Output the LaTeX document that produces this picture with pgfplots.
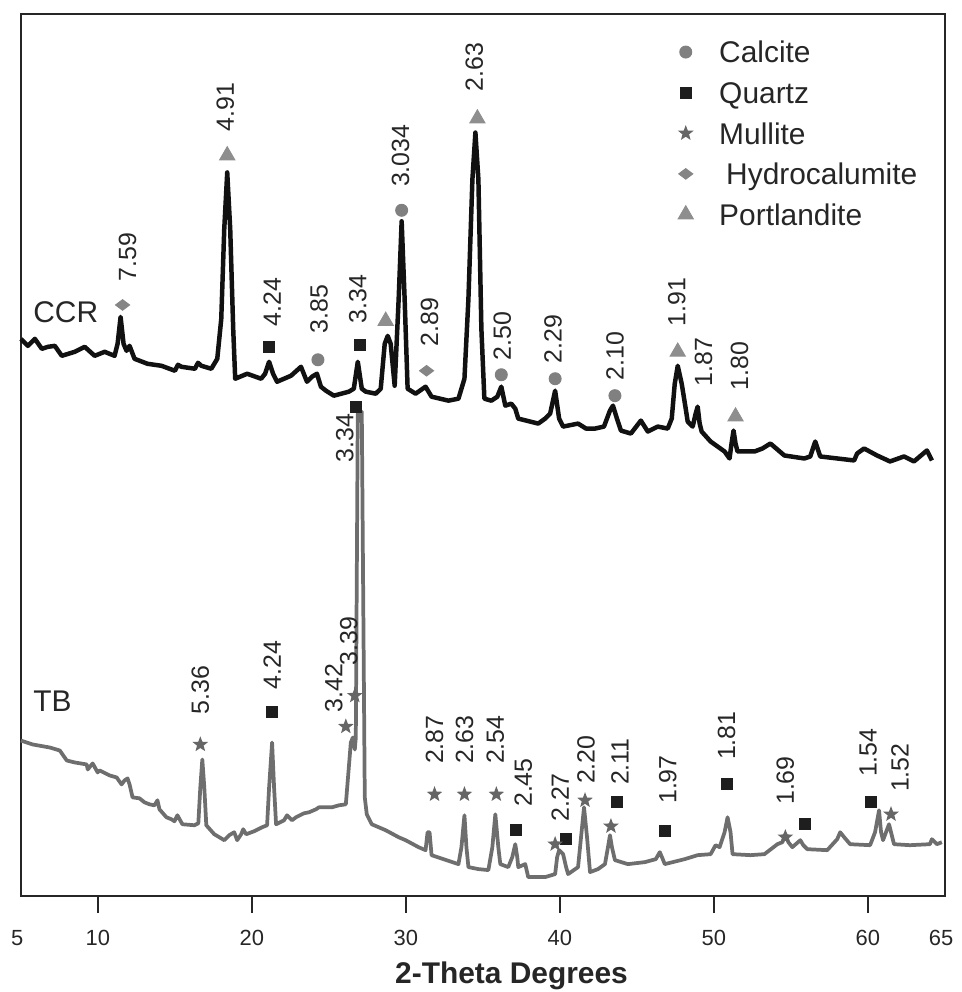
\documentclass[border=0pt]{standalone}
\usepackage{fontspec}
\setmainfont{Liberation Sans}
\usepackage{pgfplots}
\pgfplotsset{compat=1.18}

\definecolor{ccrline}{HTML}{111111}
\definecolor{tbline}{HTML}{6E6E6E}
\definecolor{calc}{HTML}{808080}
\definecolor{qtz}{HTML}{1E1E1E}
\definecolor{mull}{HTML}{666666}
\definecolor{hydro}{HTML}{858585}
\definecolor{port}{HTML}{8E8E8E}

% filled five-point star
\pgfdeclareplotmark{fstar}{%
  \pgfpathmoveto{\pgfpointpolar{90}{\pgfplotmarksize}}%
  \pgfpathlineto{\pgfpointpolar{126}{0.42\pgfplotmarksize}}%
  \pgfpathlineto{\pgfpointpolar{162}{\pgfplotmarksize}}%
  \pgfpathlineto{\pgfpointpolar{198}{0.42\pgfplotmarksize}}%
  \pgfpathlineto{\pgfpointpolar{234}{\pgfplotmarksize}}%
  \pgfpathlineto{\pgfpointpolar{270}{0.42\pgfplotmarksize}}%
  \pgfpathlineto{\pgfpointpolar{306}{\pgfplotmarksize}}%
  \pgfpathlineto{\pgfpointpolar{342}{0.42\pgfplotmarksize}}%
  \pgfpathlineto{\pgfpointpolar{18}{\pgfplotmarksize}}%
  \pgfpathlineto{\pgfpointpolar{54}{0.42\pgfplotmarksize}}%
  \pgfpathclose
  \pgfusepathqfill}

\begin{document}
\begin{tikzpicture}
\begin{axis}[
    scale only axis,
    width=370.8pt,
    height=354pt,
    xmin=5, xmax=65,
    ymin=0, ymax=885,
    clip=false,
    xtick={10,20,...,60},
    extra x ticks={5,65},
    extra x tick style={major tick style={draw opacity=0},
        xticklabel style={xshift=-1.5pt, yshift=0pt}},
    ytick=\empty,
    xtick pos=bottom,
    tick align=outside,
    major tick length=6.8pt,
    tick style={line width=0.9pt, black!85},
    axis line style={line width=0.9pt, black!85},
    /pgf/number format/assume math mode=true,
    xticklabel style={font=\fontsize{8.8}{10}\selectfont, text=black!85, yshift=-3.4pt},
    xlabel={2-Theta Degrees},
    xlabel style={font=\fontsize{12}{14}\selectfont\bfseries, text=black!85,
        at={(axis description cs:0.531,-0.0994)}, anchor=base, text depth=0pt},
    legend cell align=left,
    legend image code/.code={\path (0cm,0pt) (0.6cm,0pt);
        \draw[#1] plot coordinates {(0.3cm,0cm)};},
    legend style={draw=none, fill=none, inner sep=0pt,
        at={(rel axis cs:0.6955,0.9695)}, anchor=north west,
        font=\fontsize{12}{14}\selectfont, text=black!85,
        row sep=7.7pt, column sep=4.7pt,
        cells={anchor=west},
        nodes={inner sep=0pt, text height=8.6pt, text depth=0pt}},
]

% TB pattern
\addplot[tbline, line width=1.5pt, line join=round, forget plot] coordinates {
(5.000,156) (5.777,152) (6.877,149) (7.524,146) (7.977,136) (8.495,134)
(9.272,132) (9.337,127) (9.660,133) (9.984,124) (10.113,126) (10.761,121)
(11.214,119) (11.537,112) (11.731,116) (11.926,118) (12.055,112)
(12.249,99) (12.702,98) (13.026,94) (13.350,92) (13.673,91) (13.867,96)
(13.997,87) (14.450,79) (14.773,77) (14.968,75) (15.162,81)
(15.485,72) (16.262,71) (16.521,73) (16.650,109) (16.780,137) (16.909,109)
(17.039,71) (17.557,62) (17.880,59) (18.204,56) (18.528,61) (18.851,64)
(19.045,56) (19.304,62) (19.434,67) (19.628,62)
(20.146,65) (20.663,69) (20.987,71) (21.117,109) (21.311,154) (21.440,109)
(21.570,72) (22.088,76) (22.282,81) (22.605,76) (22.864,79) (23.382,83)
(23.706,84) (24.159,87) (24.353,89) (24.676,89)
(25.194,89) (25.647,91) (26.100,92) (26.294,129) (26.424,154) (26.553,159)
(26.683,147) (26.748,159) (26.877,486) (27.136,486) (27.330,99) (27.460,82)
(27.783,72) (28.689,66) (29.531,59) (29.984,56) (30.825,49) (31.278,46)
(31.408,64) (31.537,64) (31.667,41) (32.443,37) (33.414,32) (33.608,49)
(33.803,81) (33.932,49) (34.061,29) (34.709,27) (35.356,26) (35.615,49)
(35.809,82) (36.003,49) (36.133,32) (36.650,29) (36.909,39) (37.104,52)
(37.233,39) (37.298,29) (37.751,32) (37.945,19) (39.045,19) (39.693,22)
(39.822,39) (39.951,46) (40.210,42) (40.405,29) (40.534,22) (41.181,29)
(41.375,59) (41.570,89) (41.764,59) (41.958,24) (42.476,27) (42.929,32)
(43.123,49) (43.252,61) (43.382,49) (43.576,36) (44.417,32) (45.518,34)
(46.230,37) (46.489,44) (46.683,37) (46.812,32) (48.107,37) (48.948,41)
(49.790,42) (50.113,51) (50.372,49) (50.696,64) (50.890,79) (51.084,64)
(51.214,42) (52.379,41) (53.285,42) (54.126,52) (54.450,54) (54.644,62)
(54.838,54) (55.097,49) (55.615,56) (55.809,51) (56.068,47) (57.362,46)
(58.010,57) (58.204,64) (58.463,59) (58.851,52) (60.146,51) (60.469,64)
(60.728,86) (60.858,64) (60.987,56) (61.181,64) (61.375,72) (61.505,64)
(61.699,52) (62.735,51) (64.029,52) (64.159,57) (64.482,52) (64.806,54)
};

% CCR pattern
\addplot[ccrline, line width=1.8pt, line join=round, forget plot] coordinates {
(5.000,559) (5.453,552) (5.906,559) (6.359,549) (6.748,551) (7.201,552)
(7.654,542) (8.495,546) (9.142,551) (9.790,542) (10.437,546) (11.084,542)
(11.278,554) (11.472,581) (11.667,554) (11.861,547) (12.055,552) (12.379,539)
(13.220,534) (14.126,532) (15.000,527) (15.200,533) (15.421,531) (16.300,529)
(16.500,535) (16.715,532) (17.362,529) (17.751,539)
(18.010,579) (18.204,669) (18.398,726) (18.592,669) (18.786,569) (18.916,519)
(19.693,524) (20.599,519) (20.858,524) (21.117,536) (21.375,524) (21.634,516)
(22.540,522) (23.188,531) (23.576,516) (23.900,521) (24.223,524) (24.482,511)
(24.806,507) (25.324,502) (26.294,506) (26.618,509) (26.877,536) (27.136,509)
(27.395,506) (28.042,504) (28.366,509) (28.625,554) (28.819,562) (29.013,554)
(29.272,512) (29.531,599) (29.725,677) (29.919,599) (30.113,509) (30.631,504)
(31.278,511) (31.667,501) (32.767,497) (33.414,499) (33.803,519) (34.061,599)
(34.320,719) (34.515,766) (34.709,719) (34.903,569) (35.097,499) (35.550,497)
(35.939,501) (36.197,511) (36.456,492) (36.845,494) (37.104,489) (37.298,479)
(38.592,474) (39.045,479) (39.369,484) (39.693,507) (39.951,479) (40.210,471)
(41.181,474) (41.699,469) (42.282,469) (42.864,471) (43.252,487) (43.447,492)
(43.706,479) (43.964,467) (44.612,464) (45.259,477) (45.712,466) (46.359,471)
(47.006,469) (47.265,479) (47.460,514) (47.654,532) (47.913,514) (48.172,489)
(48.301,476) (48.625,471) (48.819,484) (48.948,491) (49.078,474) (49.207,466)
(49.790,456) (50.696,446) (51.019,439) (51.149,454) (51.278,467) (51.408,454)
(51.537,446) (52.638,446) (53.155,449) (53.673,454) (54.579,442) (55.874,439)
(56.262,441) (56.586,456) (56.909,441) (59.110,437) (59.304,444) (59.757,449)
(60.599,442) (61.440,436) (62.346,441) (62.994,436) (63.835,447) (64.159,437)
};

% phase markers
\addplot[only marks, mark=*, mark size=2.4pt, color=calc] coordinates {
(24.288,538) (29.725,688) (36.197,523) (39.693,519) (43.576,502)
};
\addlegendentry{Calcite}
\addplot[only marks, mark=square*, mark size=2.2pt, color=qtz] coordinates {
(21.117,551) (27.006,553)
(21.311,185) (26.748,491) (37.168,66) (40.405,57) (43.706,94)
(46.812,65) (50.825,112) (55.939,72) (60.210,94)
};
\addlegendentry{Quartz}
\addplot[only marks, mark=fstar, mark size=3.3pt, color=mull] coordinates {
(16.650,152) (26.100,170) (26.683,201) (31.861,102) (33.803,102)
(35.874,102) (39.693,52) (41.634,96) (43.317,70) (54.644,59) (61.505,82)
};
\addlegendentry{Mullite}
\addplot[only marks, mark=diamond*, mark size=2.8pt, mark options={rotate=90}, color=hydro] coordinates {
(11.602,593) (31.343,527)
};
\addlegendentry{\hspace{2.8pt}Hydrocalumite}
\addplot[only marks, mark=triangle*, mark size=3.5pt, color=port] coordinates {
(18.398,743) (28.689,577) (34.644,780) (47.654,546) (51.408,481)
};
\addlegendentry{Portlandite}

% d-spacing labels
\addplot[draw=none, mark=none, forget plot, nodes near coords, point meta=explicit symbolic,
    nodes near coords style={rotate=90, anchor=west, inner sep=0pt,
        font=\fontsize{10}{12}\selectfont, text=black!85}] coordinates {
(11.926,616) [7.59] (18.269,767) [4.91] (21.311,571) [4.24] (24.353,564) [3.85]
(26.877,574) [3.34] (29.660,711) [3.034] (31.537,551) [2.89] (34.450,807) [2.63]
(36.262,537) [2.50] (39.563,534) [2.29] (43.576,517) [2.10] (47.589,571) [1.91]
(49.337,511) [1.87] (51.667,507) [1.80]
(16.650,182) [5.36] (21.311,207) [4.24] (25.324,184) [3.42] (26.294,231) [3.39]
(31.861,132) [2.87] (33.803,132) [2.63] (35.809,132) [2.54] (37.621,89) [2.45]
(40.016,74) [2.27] (41.699,112) [2.20] (43.900,111) [2.11] (47.006,92) [1.97]
(50.825,136) [1.81] (54.644,91) [1.69] (60.016,119) [1.54] (62.087,104) [1.52]
};
\addplot[draw=none, mark=none, forget plot, nodes near coords, point meta=explicit symbolic,
    nodes near coords style={rotate=90, anchor=east, inner sep=0pt,
        font=\fontsize{10}{12}\selectfont, text=black!85}] coordinates {
(26.036,484) [3.34]
};

\node[anchor=west, inner sep=0pt, font=\fontsize{12}{14}\selectfont, text=black!85] at (axis cs:5.777,586) {CCR};
\node[anchor=west, inner sep=0pt, font=\fontsize{12}{14}\selectfont, text=black!85] at (axis cs:5.777,195) {TB};

% page extent
\path (rel axis cs:-0.02265,-0.10508) rectangle (rel axis cs:1.01187,1.01582);
\end{axis}
\end{tikzpicture}
\end{document}
